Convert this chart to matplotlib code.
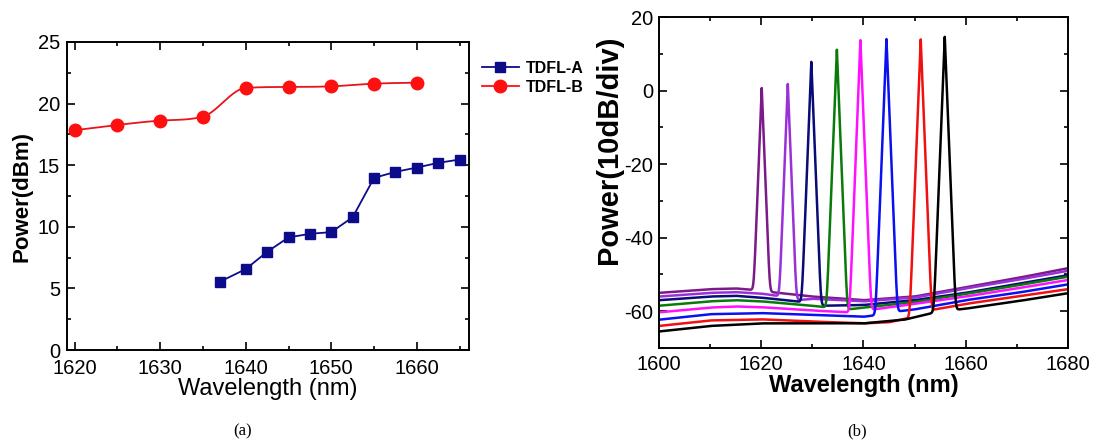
import numpy as np
import matplotlib
matplotlib.use("Agg")
import matplotlib.pyplot as plt
from matplotlib.ticker import MultipleLocator

plt.rcParams['font.family'] = ['Liberation Sans', 'DejaVu Sans']
plt.rcParams['axes.unicode_minus'] = False

# ---- (a) output power vs wavelength ----
wl_a = [1637, 1640, 1642.5, 1645, 1647.5, 1650, 1652.5, 1655, 1657.5, 1660, 1662.5, 1665]
pw_a = [5.55, 6.57, 7.97, 9.14, 9.43, 9.57, 10.78, 13.97, 14.46, 14.81, 15.19, 15.46]
wl_b = [1620, 1625, 1630, 1635, 1640, 1645, 1650, 1655, 1660]
pw_b = [17.84, 18.27, 18.62, 18.95, 21.27, 21.35, 21.4, 21.62, 21.7]

# ---- (b) spectra: peak position / height and baseline read at knots ----
spec_colors = ['#7b1a88', '#9a30d8', '#0a0a78', '#0a7a0a', '#ff10ff', '#0a10f0', '#f01010', '#000000']
peak_wl = [1620.1, 1625.2, 1629.8, 1634.8, 1639.4, 1644.5, 1651.2, 1655.9]
peak_db = [0.7, 1.8, 7.8, 11.1, 13.7, 14.0, 13.9, 14.6]
base_wl = [
    [1600, 1610, 1615, 1619, 1622, 1630, 1640, 1650, 1660, 1670, 1680],
    [1600, 1610, 1615, 1620, 1624, 1627, 1630, 1640, 1650, 1660, 1670, 1680],
    [1600, 1610, 1615, 1620, 1628, 1632, 1640, 1650, 1660, 1670, 1680],
    [1600, 1610, 1615, 1620, 1630, 1633, 1637, 1640, 1650, 1660, 1670, 1680],
    [1600, 1610, 1615, 1620, 1630, 1637, 1642, 1650, 1660, 1670, 1680],
    [1600, 1610, 1620, 1630, 1640, 1643, 1647, 1650, 1660, 1670, 1680],
    [1600, 1610, 1620, 1630, 1640, 1645, 1649, 1654, 1660, 1670, 1680],
    [1600, 1610, 1620, 1630, 1640, 1648, 1652, 1654, 1658, 1660, 1670, 1680],
]
base_db = [
    [-55.0, -54.0, -53.8, -54.3, -54.8, -56.0, -57.0, -56.0, -53.5, -51.0, -48.3],
    [-56.0, -55.0, -54.8, -55.2, -56.0, -57.0, -56.6, -57.3, -56.3, -53.8, -51.5, -49.0],
    [-57.0, -56.0, -55.8, -56.3, -57.5, -58.5, -58.3, -57.0, -55.0, -52.6, -50.2],
    [-58.5, -57.3, -57.0, -57.3, -58.5, -59.0, -59.5, -59.0, -57.5, -55.3, -53.0, -50.6],
    [-60.3, -59.0, -58.7, -58.9, -59.8, -60.3, -59.5, -58.0, -56.0, -53.8, -51.5],
    [-62.3, -60.8, -60.5, -61.0, -61.5, -61.0, -60.0, -59.5, -57.0, -55.0, -52.7],
    [-64.0, -62.5, -62.2, -62.8, -63.3, -63.0, -61.8, -59.5, -58.0, -56.0, -54.0],
    [-65.5, -64.0, -63.3, -63.3, -63.3, -62.3, -61.0, -60.3, -59.6, -59.3, -57.3, -55.1],
]
peak_slope = 35.0  # dB per nm on each flank


def monotone_line(x, y, n=40):
    # Fritsch-Carlson monotone cubic, only used to draw the smooth connecting line
    x = np.asarray(x, float)
    y = np.asarray(y, float)
    h = np.diff(x)
    d = np.diff(y) / h
    m = np.zeros_like(y)
    m[0], m[-1] = d[0], d[-1]
    for i in range(1, len(y) - 1):
        m[i] = 0.0 if d[i - 1] * d[i] <= 0 else 0.5 * (d[i - 1] + d[i])
    for i in range(len(d)):
        if d[i] == 0:
            m[i] = m[i + 1] = 0
            continue
        a, b = m[i] / d[i], m[i + 1] / d[i]
        s = a * a + b * b
        if s > 9:
            tau = 3 / np.sqrt(s)
            m[i], m[i + 1] = tau * a * d[i], tau * b * d[i]
    xs, ys = [], []
    t = np.linspace(0, 1, n)
    for i in range(len(d)):
        h00 = 2 * t ** 3 - 3 * t ** 2 + 1
        h10 = t ** 3 - 2 * t ** 2 + t
        h01 = -2 * t ** 3 + 3 * t ** 2
        h11 = t ** 3 - t ** 2
        xs.append(x[i] + t * h[i])
        ys.append(h00 * y[i] + h10 * h[i] * m[i] + h01 * y[i + 1] + h11 * h[i] * m[i + 1])
    return np.concatenate(xs), np.concatenate(ys)


fig = plt.figure(figsize=(10.93, 4.43), dpi=100)

# ---------------- panel (a) ----------------
ax1 = fig.add_axes([0.0613, 0.2099, 0.3678, 0.6953])

sx, sy = monotone_line(wl_b, pw_b)
ax1.plot(sx, sy, color='#e8141c', lw=1.3, zorder=2)
ax1.plot(wl_a, pw_a, color='#0c0c8a', lw=1.3, marker='s', ms=7.5, label='TDFL-A', zorder=3)
ax1.plot(wl_b, pw_b, color='#ff1010', lw=0, marker='o', ms=9, zorder=3)
# legend proxy for TDFL-B
ax1.plot([], [], color='#ff1010', lw=1.3, marker='o', ms=9, label='TDFL-B')

ax1.set_xlim(1619.1, 1666.1)
ax1.set_ylim(0, 25)
ax1.xaxis.set_major_locator(MultipleLocator(10))
ax1.xaxis.set_minor_locator(MultipleLocator(5))
ax1.yaxis.set_major_locator(MultipleLocator(5))
ax1.yaxis.set_minor_locator(MultipleLocator(2.5))
ax1.set_xlabel('Wavelength (nm)', fontsize=17, labelpad=0)
ax1.set_ylabel('Power(dBm)', fontsize=16, fontweight='bold', labelpad=4)

leg = ax1.legend(loc='center left', bbox_to_anchor=(0.441, 0.825), bbox_transform=fig.transFigure,
                 frameon=False, handlelength=2.3, handletextpad=0.45, labelspacing=0.25,
                 borderpad=0, borderaxespad=0, prop={'size': 11.5, 'weight': 'bold'})

# ---------------- panel (b) ----------------
ax2 = fig.add_axes([0.6029, 0.2144, 0.3742, 0.7472])
lam = np.linspace(1600, 1680, 16001)
for k in range(len(peak_wl)):
    base = np.interp(lam, base_wl[k], base_db[k])
    line = peak_db[k] - peak_slope * np.abs(lam - peak_wl[k])
    total = 10 * np.log10(10 ** (base / 10) + 10 ** (line / 10))
    ax2.plot(lam, total, color=spec_colors[k], lw=1.8)

ax2.set_xlim(1600, 1680)
ax2.set_ylim(-70, 20)
ax2.xaxis.set_major_locator(MultipleLocator(20))
ax2.xaxis.set_minor_locator(MultipleLocator(10))
ax2.yaxis.set_major_locator(MultipleLocator(20))
ax2.yaxis.set_minor_locator(MultipleLocator(10))
ax2.set_xlabel('Wavelength (nm)', fontsize=17, fontweight='bold', labelpad=0)
ax2.set_ylabel('Power(10dB/div)', fontsize=21, fontweight='bold')
ax2.yaxis.set_label_coords(-0.088, 0.6)

for ax in (ax1, ax2):
    ax.tick_params(which='both', direction='in', top=True, right=True, labelsize=14.5, width=1.2)
    ax.tick_params(which='major', length=6)
    ax.tick_params(which='minor', length=3)
    ax.tick_params(axis='x', which='major', pad=5)
    ax.tick_params(axis='y', which='major', pad=4)
    for s in ax.spines.values():
        s.set_linewidth(1.4)
ax1.tick_params(axis='x', which='major', pad=6.5)
ax1.tick_params(axis='y', which='major', pad=5)

fig.text(243 / 1093, 1 - 431 / 443, '(a)', ha='center', va='center', fontsize=12, family='Liberation Serif')
fig.text(857 / 1093, 1 - 431 / 443, '(b)', ha='center', va='center', fontsize=12, family='Liberation Serif')

fig.savefig('out.png', dpi=100)
